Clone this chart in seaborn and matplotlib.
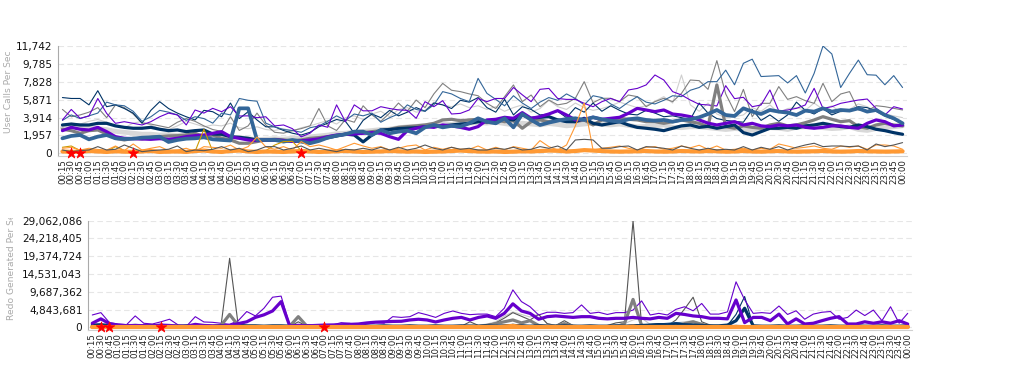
import numpy as np
import pandas as pd
import matplotlib
matplotlib.use("Agg")
import matplotlib.pyplot as plt
import seaborn as sns
from matplotlib.transforms import Bbox, TransformedBbox
from matplotlib.ticker import FuncFormatter

# ---------------- data ----------------
times = [f"{((i + 1) * 15 // 60) % 24:02d}:{((i + 1) * 15) % 60:02d}" for i in range(96)]
star_idx = [1, 2, 8, 27]

calls_yticks = [0, 1957, 3914, 5871, 7828, 9785, 11742]
redo_yticks = [0, 4843681, 9687362, 14531043, 19374724, 24218405, 29062086]

# User Calls Per Sec
calls_blue_thin = [3600,4200,3800,4100,4400,5600,5300,5200,4600,3500,4000,4700,4500,4200,3600,4000,3800,3300,4400,4200,6000,5800,5700,3300,
                   2900,2600,2500,2300,2800,3000,3500,4100,3600,4300,4100,4400,3400,3900,4300,5300,4800,4600,5300,6750,6500,6000,5650,8200,
                   6560,5900,5200,6300,5500,4900,5600,6100,5800,6500,6000,5300,6300,6100,5400,4900,5600,6200,5600,5400,5800,6300,6200,6900,
                   7200,7840,7840,9100,7500,9850,10300,8400,8450,8500,7700,8500,6600,8750,11742,10870,7200,8750,10200,8600,8550,7500,8500,7200]
calls_purple_thin = [3650,4800,3830,4080,6000,4370,3280,3460,3280,3100,3460,4000,4400,4200,3100,4740,4400,4920,4550,5100,4080,4100,3900,4000,
                     3000,3100,2700,1800,2200,3100,2850,5300,3460,5300,4650,4650,5100,4900,4750,4700,3830,5650,5100,5760,4300,4370,4740,6000,
                     5650,6000,6000,7200,6400,5650,7000,7100,6000,5900,5900,5470,5100,5650,6000,5650,6930,7100,7480,8570,8020,6750,6380,5830,
                     5360,5290,5180,7400,5980,6130,5100,5290,6930,4630,4740,4920,5290,7110,4920,5100,5470,5650,5830,5940,4920,4190,5100,4850]
calls_navy_thin = [6100,6000,6000,5300,6850,5100,5300,4900,4400,3300,4700,5650,4900,4400,4000,3650,4700,4550,4000,5500,3800,4550,3650,2900,
                   2900,2500,2200,2000,2300,2900,3300,3700,3500,2200,3600,4300,3900,4700,4100,4500,5000,4600,5500,5300,4900,5800,5600,6100,
                   5000,4500,5900,4200,5100,4800,4200,4300,4600,3900,5000,4500,5500,4600,5200,4700,4300,4200,4700,4400,4000,4100,3900,3700,
                   5500,4400,3800,3600,3500,3400,4800,3600,4200,3500,4200,5600,4700,4300,4900,4200,4600,4700,5100,5000,4600,4100,3700,3200]
calls_gray_thin = [4800,4000,4200,4500,5000,3900,5300,5000,4300,3300,3200,3000,2800,3400,3800,3500,3000,2600,2400,4000,2500,3000,4400,3100,
                   2300,2200,2500,2700,3000,4900,3000,2500,3700,3400,5200,4200,3500,4400,5500,4600,5830,5000,6500,7650,6900,6750,6500,6300,
                   5470,4900,6200,7480,5650,6380,5100,5830,5300,5470,6020,7840,5540,6020,6020,5650,6380,6200,5100,5650,6020,5650,6560,8020,
                   7950,7000,10140,6500,4560,7000,4000,5470,5470,7300,5900,6200,5760,5470,7660,5650,6490,6750,4740,4630,5210,5100,4920,4740]
calls_lgray_thin = [3000,3300,3200,3500,3700,3400,3000,2800,3300,3500,3100,2700,2600,3000,3500,3200,2900,3100,3000,3300,2800,2700,2900,2600,
                    2500,2700,2400,2800,3000,3300,3600,3200,3900,4100,3700,4300,4600,4000,4800,5000,4500,4700,5600,5300,5100,5400,5000,5200,
                    4800,5100,4600,5000,5300,4500,4900,5800,5100,4800,5500,5000,4700,4900,5200,5600,5300,5000,5200,5700,6200,5500,8570,5300,
                    4600,5500,4300,3900,4000,4200,5000,4600,5300,4400,4900,5000,4700,5500,4800,5200,4500,4800,5400,5100,4600,4300,4100,3900]
calls_navy_thick = [3100,3200,3100,3100,3280,3280,3000,2840,2740,2740,2840,2630,2480,2550,2370,2480,2550,2110,2080,1820,1750,1640,1460,1460,
                    1450,1400,1350,1300,1350,1500,1700,1900,2100,2000,1250,2000,2550,2600,2700,2750,2800,2900,2950,3000,3100,3200,3280,3450,
                    3460,3650,3830,3650,4190,3830,3940,4010,3650,3460,3460,3830,3280,3100,3280,3460,3100,2840,2740,2630,2480,2740,3000,3100,
                    2840,2950,2740,2920,3100,2260,2000,2370,2740,2740,2840,2740,3000,3100,3280,3100,2920,2840,3100,2920,2630,2480,2260,2080]
calls_purple_thick = [2480,2840,2630,2550,2840,2370,1820,1640,1600,1570,1530,1600,1530,1640,1820,1930,2000,2190,2370,1820,1640,1460,1390,1460,
                      1460,1400,1300,1360,1460,1580,1820,2000,2070,2110,2190,2260,2190,1820,1530,2480,2740,2920,2840,3100,3000,2840,2630,2920,
                      3650,3720,3940,3830,4450,3830,4010,4300,4670,4190,3650,3720,3940,3720,3830,3940,4380,4920,4740,4560,4740,4300,4190,4010,
                      3650,3300,3100,3280,3460,3100,3280,3000,2920,3100,3000,3100,2840,2740,2840,3000,3000,2840,2740,3280,3650,3460,3000,3100]
calls_steel_thick = [1640,1900,2000,1530,1820,2000,1640,1570,1600,1710,1750,1820,1240,1460,1600,1640,1750,1530,1460,1400,4920,4920,1460,1460,
                     1460,1280,1460,1280,1100,1350,1710,1930,2080,2370,2370,2000,2550,2190,2370,2480,2190,2840,3100,2840,3000,2920,3280,3830,
                     3460,3280,3830,2840,4300,3650,3100,3360,3570,3760,3830,3650,3940,3720,3570,3460,3720,3830,3650,3570,3650,3460,3650,3720,
                     3940,4300,4740,4190,4080,4920,4560,4300,4740,4560,4450,4190,4670,4560,4920,4560,4740,4670,4920,4560,4740,4190,3830,3280]
calls_gray_thick = [2630,2480,2190,2480,2550,2110,1640,1460,1640,1570,1750,1820,1900,1930,2000,2190,1820,2000,1640,1460,1100,1100,1280,1460,
                    1530,1460,1390,1460,1640,1720,1820,1930,2080,2190,2260,2370,2480,2630,2840,2920,3000,3100,3280,3650,3720,3570,3650,3720,
                    3360,3650,3460,3570,2740,3460,3650,3460,3650,3570,3460,3650,3100,3650,3650,3830,3720,3650,3460,3460,3280,3460,3650,3460,
                    3280,2920,7480,2920,2740,3000,2840,2740,3100,3280,3000,3100,3350,3650,4010,3720,3460,3570,2920,2740,3100,3280,3100,3000]
calls_lgray_thick = [2800,2900,3000,2850,2700,2600,2400,2300,2200,2100,2100,2000,2050,1950,2000,1900,1800,1850,1700,1650,1750,1600,1500,1550,
                     1600,1550,1650,1700,1800,1900,2000,2150,2200,2300,2400,2500,2600,2650,2800,2900,2950,3050,3100,3200,3150,3250,3300,3350,
                     3300,3400,3250,3100,3300,3200,3100,3250,3150,3000,3100,3200,3300,3150,3100,3200,3050,2900,2950,3000,3100,2850,2800,2900,
                     2900,2800,2700,2600,2700,2650,2500,2700,2800,2750,2600,2850,2900,3000,2800,2700,2750,2900,2600,2500,2700,2800,2900,3000]
calls_orange_thick = [200,150,180,250,200,150,220,180,150,200,250,150,180,200,150,250,300,200,150,250,300,200,150,200,
                      180,150,200,250,200,150,180,220,250,200,150,180,200,250,220,180,200,150,180,200,250,300,250,200,
                      180,200,150,180,220,200,250,300,280,200,250,350,300,250,200,180,200,220,250,200,180,200,250,220,
                      200,250,220,180,200,250,200,180,220,250,200,180,200,220,250,200,180,200,250,220,200,180,200,220]
calls_orange_thin = [550,650,350,550,420,350,800,300,1020,350,550,730,300,350,550,200,730,650,550,900,350,730,1780,700,
                     440,730,360,1280,730,910,660,360,730,1100,800,550,730,360,550,800,910,360,660,440,660,360,440,800,
                     360,660,360,730,550,360,1390,730,360,910,3000,5500,360,550,660,800,550,360,660,730,440,550,800,600,
                     880,440,800,360,440,550,360,550,440,1020,800,550,660,800,550,440,800,660,800,440,910,910,800,440]
calls_dgray_thin = [360,180,290,360,730,360,440,910,550,180,290,360,440,800,180,360,290,440,730,360,550,180,360,730,
                    730,360,550,800,360,550,360,180,440,360,550,360,660,360,660,360,550,910,550,360,660,440,550,360,
                    360,550,440,660,360,440,730,550,800,360,1460,1530,1460,550,550,730,800,360,730,660,550,360,800,550,
                    360,550,360,440,360,730,360,660,440,730,360,660,910,1100,730,800,800,730,800,360,1020,730,910,1170]
calls_gold_thin = [660,800,300,200,250,200,730,300,250,200,150,200,180,200,250,200,2630,200,200,250,300,200,250,300,
                   900,1280,1300,300,200,150,200,250,150,200,180,200,150,200,250,150,200,180,200,150,250,200,150,200,
                   200,150,180,200,250,200,150,200,180,150,200,250,200,150,200,180,200,250,200,150,180,200,150,200,
                   180,200,150,200,250,200,180,150,200,250,200,150,180,200,250,200,150,200,180,200,250,200,150,200]

# Redo Generated Per Sec (millions)
redo_purple_thin_m = [3.36,4.0,1.27,0.9,0.73,3.1,1.1,0.9,1.5,2.2,0.64,0.36,2.9,1.45,1.36,1.1,0.82,1.8,4.3,3.1,5.2,8.2,8.5,0.6,
                      0.8,0.64,0.7,0.64,0.64,1.27,1.1,0.36,0.9,1.27,1.1,2.9,2.7,2.9,4.0,3.4,2.7,3.8,4.45,3.8,3.45,3.6,3.6,2.9,
                      5.2,10.2,7.0,5.6,3.36,4.1,4.1,3.8,4.0,6.1,3.8,4.1,3.5,4.0,4.0,4.7,7.2,3.36,3.8,3.36,4.9,5.6,4.5,6.5,
                      3.6,3.6,4.2,12.4,7.5,3.8,4.0,3.8,5.8,3.5,4.5,2.2,3.6,4.1,4.3,2.2,2.7,4.7,3.2,4.7,1.8,5.6,1.1,3.8]
redo_purple_thick_m = [1.1,2.3,1.0,0.6,0.45,0.5,0.45,0.4,0.6,0.5,0.3,0.3,0.8,0.5,0.4,0.35,0.5,1.0,1.5,2.7,3.4,4.45,7.0,0.36,
                       0.5,0.4,0.5,0.6,0.64,0.7,0.8,0.9,1.2,1.4,1.5,1.6,1.64,2.0,2.2,2.0,1.45,2.0,2.45,2.7,2.0,2.7,3.1,2.45,
                       3.8,6.4,4.45,3.8,2.2,2.9,3.1,2.9,2.7,2.9,2.9,2.45,2.3,2.45,2.45,2.7,2.45,2.3,2.7,2.45,3.8,3.5,3.1,2.9,
                       2.45,2.45,2.3,7.45,1.27,2.7,2.7,1.8,3.6,0.9,2.3,0.9,1.1,1.8,2.45,2.9,0.9,0.9,1.5,1.1,1.5,1.1,1.8,0.9]
redo_gray_thin_m = [0.2,0.3,0.2,0.1,0.1,0.2,0.1,0.1,0.2,0.1,0.1,0.2,0.1,0.3,0.2,0.5,18.8,0.6,0.3,0.2,0.1,0.2,0.3,0.2,
                    1.5,0.3,0.2,0.1,0.1,0.2,0.1,0.1,0.2,0.1,0.2,0.1,0.2,0.1,0.1,0.2,0.3,0.2,0.4,0.3,1.5,0.5,0.8,1.2,
                    2.5,4.0,3.0,2.0,3.5,1.0,0.5,1.8,0.5,0.3,0.2,0.3,0.5,1.2,1.5,29.0,0.5,0.3,0.2,0.4,2.0,5.0,8.2,1.5,
                    0.6,0.3,0.2,0.4,0.3,0.2,0.1,0.2,0.1,0.2,0.1,0.1,0.2,0.1,0.2,0.1,0.1,0.2,0.1,0.1,0.2,0.1,0.1,0.2]
redo_gray_thick_m = [0.1,0.1,0.1,0.1,0.1,0.1,0.1,0.1,0.1,0.1,0.1,0.1,0.1,0.1,0.1,0.5,3.5,0.5,0.1,0.1,0.1,0.1,0.1,0.3,
                     2.9,0.3,0.1,0.1,0.1,0.1,0.1,0.1,0.1,0.1,0.1,0.1,0.1,0.1,0.1,0.1,0.1,0.1,0.1,0.1,0.1,0.1,0.3,1.0,
                     1.5,2.0,1.2,1.8,0.5,0.3,0.3,1.0,0.3,0.1,0.1,0.1,0.1,0.1,1.0,7.6,0.5,0.1,0.1,0.1,0.3,1.0,1.5,0.8,
                     0.2,0.1,0.1,0.1,0.1,0.1,0.1,0.1,0.1,0.1,0.1,0.1,0.1,0.1,0.1,0.1,0.1,0.1,0.1,0.1,0.1,0.1,0.1,0.1]
redo_lgray_thin_m = [0.3,0.4,0.3,0.2,0.3,0.4,0.3,0.2,0.3,0.2,0.3,0.2,0.3,0.4,0.3,0.2,0.5,0.3,0.2,0.3,0.2,0.3,0.2,0.3,
                     0.5,0.3,0.2,0.3,0.2,0.3,0.2,0.3,0.2,0.3,0.2,0.3,0.2,0.3,0.2,0.3,0.2,0.3,0.5,0.4,0.8,0.6,0.9,1.5,
                     3.0,4.2,3.5,2.8,3.6,1.0,0.5,0.8,0.4,0.3,0.2,0.3,0.4,0.6,1.0,2.0,2.5,0.8,0.5,0.8,1.2,1.5,1.8,1.0,
                     0.5,0.3,0.4,0.6,0.4,0.3,0.2,0.3,0.2,0.3,0.2,0.3,0.2,0.3,0.2,0.3,0.2,0.3,0.2,0.3,0.2,0.3,0.2,0.3]
redo_navy_thin_m = [0.4,0.5,0.3,0.3,0.2,0.3,0.4,0.3,0.3,0.2,0.3,0.5,0.3,0.2,0.3,0.3,0.4,0.3,0.2,0.3,0.3,0.2,0.3,0.2,
                    0.2,0.3,0.2,0.3,0.2,0.3,0.2,0.3,0.2,0.3,0.2,0.3,0.2,0.3,0.2,0.3,0.2,0.3,0.2,0.3,0.2,0.3,0.2,0.3,
                    0.5,0.8,0.6,0.4,0.3,0.4,0.3,0.2,0.3,0.4,0.3,0.2,0.3,0.2,0.4,0.6,0.5,0.8,1.0,0.9,1.2,1.0,0.8,0.6,
                    0.4,0.3,0.5,3.5,8.4,0.3,0.2,0.3,0.2,0.3,0.2,0.3,0.2,0.3,0.2,0.3,0.2,0.3,0.2,0.3,0.2,0.3,0.2,0.3]
redo_navy_thick_m = [0.6,0.7,0.5,0.4,0.4,0.5,0.4,0.4,0.5,0.4,0.3,0.4,0.5,0.4,0.3,0.4,0.4,0.5,0.4,0.4,0.3,0.4,0.4,0.3,
                     0.3,0.4,0.3,0.3,0.4,0.3,0.3,0.4,0.3,0.3,0.4,0.3,0.3,0.4,0.3,0.3,0.4,0.3,0.3,0.4,0.3,0.3,0.4,0.3,
                     0.4,0.5,0.4,0.3,0.4,0.3,0.3,0.4,0.3,0.3,0.4,0.3,0.3,0.4,0.3,0.4,0.5,0.6,0.7,0.6,0.8,0.7,0.6,0.5,
                     0.4,0.4,0.6,1.8,5.2,0.4,0.3,0.3,0.4,0.3,0.3,0.4,0.3,0.3,0.4,0.3,0.3,0.4,0.3,0.3,0.4,0.3,0.3,0.4]
redo_blue_thin_m = [0.2,0.3,0.2,0.2,0.3,0.2,0.2,0.3,0.2,0.2,0.3,0.2,0.2,0.3,0.2,0.2,0.3,0.2,0.2,0.3,0.2,0.2,0.3,0.2,
                    0.2,0.3,0.2,0.2,0.3,0.2,0.2,0.3,0.2,0.2,0.3,0.2,0.2,0.3,0.2,0.2,0.3,0.2,0.2,0.3,0.2,0.2,0.3,0.2,
                    0.3,0.5,0.4,0.3,0.4,0.3,0.2,0.3,0.2,0.3,0.2,0.3,0.2,0.3,0.4,0.6,0.8,0.6,0.9,1.1,1.3,1.0,0.7,0.5,
                    0.3,0.2,0.3,0.5,0.4,0.3,0.2,0.3,0.2,0.3,0.2,0.3,0.2,0.3,0.2,0.3,0.2,0.3,0.2,0.3,0.2,0.3,0.2,0.3]
redo_orange_thick_m = [0.15] * 96
redo_orange_thin_m = [0.3,0.4,0.2,0.3,0.5,0.3,0.2,0.4,0.3,0.2,0.3,0.4,0.2,0.3,0.5,0.3,0.2,0.3,0.4,0.2,0.3,0.3,0.2,0.4,
                      0.3,0.2,0.3,0.4,0.2,0.3,0.5,0.3,0.2,0.3,0.4,0.2,0.3,0.3,0.2,0.4,0.3,0.2,0.3,0.4,0.2,0.3,0.5,0.3,
                      0.6,0.8,0.5,0.4,0.3,0.2,0.3,0.4,0.2,0.3,0.5,0.3,0.2,0.3,0.4,0.6,0.3,0.3,0.2,0.4,0.5,0.3,0.2,0.3,
                      0.4,0.2,0.3,0.5,0.3,0.2,0.3,0.4,0.2,0.3,0.3,0.2,0.4,0.3,0.2,0.3,0.4,0.2,0.3,0.5,0.3,0.2,0.3,0.4]

# ---------------- style ----------------
sns.set_style("white")
plt.rcParams["font.family"] = ["DejaVu Sans"]

PURPLE = "#6600cc"
NAVY = "#003366"
STEEL = "#336699"
GRAY = "#808080"
LGRAY = "#d8d8d8"
ORANGE = "#ff9933"
DGRAY = "#555555"
GOLD = "#cc9900"

THIN = 0.8
THICK = 2.3

fig = plt.figure(figsize=(10.1, 3.9), dpi=100)
ax1 = fig.add_axes([58 / 1010, 1 - 156 / 390, 849 / 1010, 110 / 390])
ax2 = fig.add_axes([88 / 1010, 1 - 330 / 390, 824 / 1010, 109.3 / 390])

x = np.arange(96)


def draw(ax, vals, color, lw, z):
    sns.lineplot(x=x, y=vals, ax=ax, color=color, linewidth=lw, zorder=z, legend=False)


# top panel
draw(ax1, calls_lgray_thick, LGRAY, 3.4, 2)
draw(ax1, calls_lgray_thin, "#cfcfcf", THIN, 3)
draw(ax1, calls_gray_thin, GRAY, THIN, 3)
draw(ax1, calls_navy_thin, NAVY, THIN, 3)
draw(ax1, calls_blue_thin, STEEL, THIN, 3)
draw(ax1, calls_purple_thin, PURPLE, THIN, 3)
draw(ax1, calls_gray_thick, GRAY, THICK, 4)
draw(ax1, calls_navy_thick, NAVY, THICK, 4)
draw(ax1, calls_purple_thick, PURPLE, THICK, 4)
draw(ax1, calls_steel_thick, STEEL, 2.7, 4)
draw(ax1, calls_gold_thin, GOLD, THIN, 5)
draw(ax1, calls_orange_thick, ORANGE, 3.0, 5)
draw(ax1, calls_orange_thin, ORANGE, THIN, 6)
draw(ax1, calls_dgray_thin, DGRAY, THIN, 6)
sns.scatterplot(x=star_idx, y=[0] * len(star_idx), ax=ax1, marker="*", s=65,
                color="#ff0000", edgecolor="#ff0000", linewidth=0.5, zorder=10, clip_on=False, legend=False)

# bottom panel
M = 1e6
draw(ax2, np.array(redo_lgray_thin_m) * M, "#c8c8c8", THIN, 3)
draw(ax2, np.array(redo_gray_thin_m) * M, DGRAY, THIN, 3)
draw(ax2, np.array(redo_blue_thin_m) * M, STEEL, THIN, 3)
draw(ax2, np.array(redo_navy_thin_m) * M, NAVY, THIN, 3)
draw(ax2, np.array(redo_purple_thin_m) * M, PURPLE, THIN, 3)
draw(ax2, np.array(redo_gray_thick_m) * M, GRAY, THICK, 4)
draw(ax2, np.array(redo_navy_thick_m) * M, NAVY, THICK, 4)
draw(ax2, np.array(redo_purple_thick_m) * M, PURPLE, THICK, 4)
draw(ax2, np.array(redo_orange_thick_m) * M, ORANGE, 3.0, 5)
draw(ax2, np.array(redo_orange_thin_m) * M, ORANGE, THIN, 5)
sns.scatterplot(x=star_idx, y=[0] * len(star_idx), ax=ax2, marker="*", s=65,
                color="#ff0000", edgecolor="#ff0000", linewidth=0.5, zorder=10, clip_on=False, legend=False)

fmt = FuncFormatter(lambda v, p: f"{int(round(v)):,}")
for ax, yt, ylim in ((ax1, calls_yticks, (-295, 11742)), (ax2, redo_yticks, (-736000, 29062086))):
    ax.set_xlim(-0.5, 95.5)
    ax.set_ylim(*ylim)
    ax.set_yticks(yt)
    ax.yaxis.set_major_formatter(fmt)
    ax.set_xticks(x)
    ax.set_xticklabels(times, rotation=90, fontsize=6.2, color="#222222")
    ax.tick_params(axis="x", length=0, pad=2)
    ax.tick_params(axis="y", length=3, width=0.8, color="#aaaaaa", labelsize=7.6, labelcolor="#111111", pad=1)
    ax.yaxis.grid(True, color="#e6e6e6", linestyle=(0, (5, 3)), linewidth=0.8)
    ax.xaxis.grid(False)
    ax.set_axisbelow(True)
    ax.set_xlabel("")
    ax.set_ylabel("")
    for s in ("top", "right"):
        ax.spines[s].set_visible(False)
    ax.spines["left"].set_color("#aaaaaa")
    ax.spines["left"].set_linewidth(0.8)
    ax.spines["bottom"].set_color("#d0d0d0")
    ax.spines["bottom"].set_linewidth(0.8)

fig.text(9 / 1010, 1 - 133 / 390, "User Calls Per Sec", rotation=90, ha="center", va="bottom",
         fontsize=6.6, color="#aaaaaa")
t2 = fig.text(12 / 1010, 1 - 320 / 390, "Redo Generated Per Sec", rotation=90, ha="center", va="bottom",
              fontsize=6.6, color="#aaaaaa")
t2.set_clip_box(TransformedBbox(Bbox.from_extents(0, 0, 1, 1 - 218 / 390), fig.transFigure))
t2.set_clip_on(True)

fig.savefig("out.png", dpi=100, facecolor="white")
